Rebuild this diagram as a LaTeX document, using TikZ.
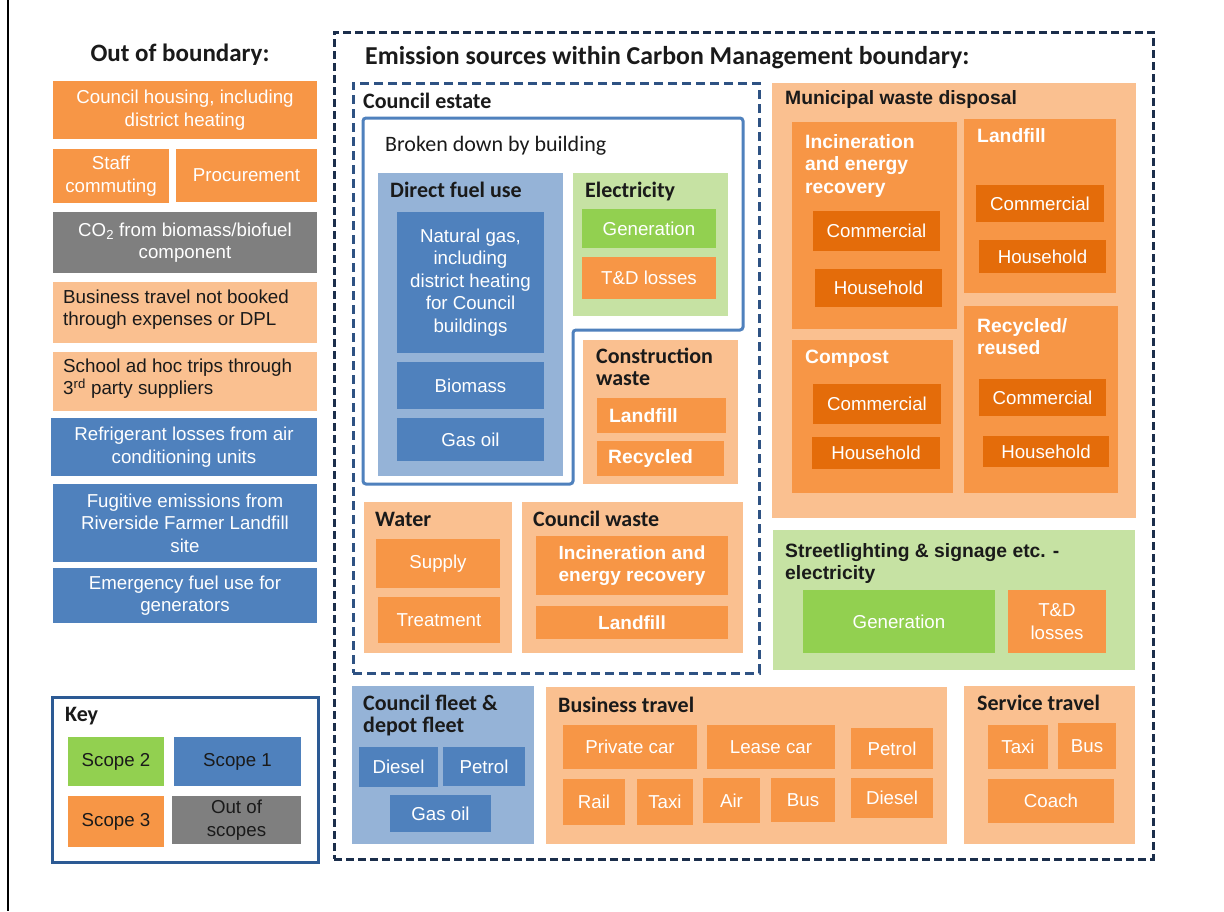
\documentclass[tikz,border=0pt]{standalone}
\usepackage{fontspec}
\setmainfont{Liberation Sans}
\newfontfamily\calfont{Carlito}
\definecolor{sorange}{HTML}{F79646}
\definecolor{lorange}{HTML}{FAC090}
\definecolor{dorange}{HTML}{E46C0A}
\definecolor{sblue}{HTML}{4F81BD}
\definecolor{lblue}{HTML}{95B3D7}
\definecolor{sgreen}{HTML}{92D050}
\definecolor{lgreen}{HTML}{C6E2A3}
\definecolor{sgrey}{HTML}{7F7F7F}
\definecolor{navy}{HTML}{1B2E4B}
\definecolor{cenavy}{HTML}{2E5283}
\definecolor{keyblue}{HTML}{2C5A94}
\definecolor{tdark}{HTML}{1A1A1A}
\newcommand{\bx}[7]{\node[box,#6,minimum width={(#4-#2)*1pt},minimum height={(#5-#3)*1pt}] (#1) at ({(#2+#4)/2},{(#3+#5)/2}) {#7};}
\begin{document}
\begin{tikzpicture}[x=1pt,y=-1pt,
  box/.style={inner sep=0pt, outer sep=0pt, align=center, font=\fontsize{18.7}{22.5}\selectfont},
  so/.style={fill=sorange, text=white},
  lo/.style={fill=lorange},
  do/.style={fill=dorange, text=white},
  sb/.style={fill=sblue, text=white},
  lb/.style={fill=lblue},
  sg/.style={fill=sgreen, text=white},
  lg/.style={fill=lgreen},
  gy/.style={fill=sgrey, text=white},
  bfont/.style={font=\fontsize{19}{22}\selectfont\bfseries},
  hdc/.style={inner sep=0pt, anchor=west, text=tdark, font=\calfont\fontsize{22}{22}\selectfont\bfseries},
  hdcm/.style={inner sep=0pt, anchor=north west, align=left, text=tdark, font=\calfont\fontsize{22}{22}\selectfont\bfseries},
  hda/.style={inner sep=0pt, anchor=west, text=tdark, font=\fontsize{19.3}{22}\selectfont\bfseries},
  hdam/.style={inner sep=0pt, anchor=north west, align=left, text=tdark, font=\fontsize{19.3}{22.5}\selectfont\bfseries},
  wl/.style={text=white},
  ltxt/.style={inner sep=0pt, anchor=north west, align=left, text=tdark, font=\fontsize{18.8}{22}\selectfont},
  mainttl/.style={inner sep=0pt, text=tdark, font=\calfont\fontsize{25}{25}\selectfont\bfseries},
  dashbox/.style={draw=navy, line width=3pt, dash pattern=on 8pt off 4pt},
  cebox/.style={draw=cenavy, line width=3pt, dash pattern=on 9pt off 5pt},
  keybox/.style={draw=keyblue, line width=3pt, fill=white},
  bdb/.style={draw=sblue, line width=3pt, rounded corners=3pt}
]
\useasboundingbox (0,0) rectangle (1224,911);
\fill[white] (0,0) rectangle (1224,911);
\draw[line width=2.5pt] (8,0) -- (8,911);

% ---------- Out of boundary ----------
\node[mainttl] (oobT) at (180,55) {Out of boundary:};
\bx{ch}{53}{81}{317}{139}{so}{Council housing, including\\district heating}
\bx{sc}{53}{149}{169}{203}{so}{Staff\\commuting}
\bx{pr}{176}{149}{317}{202}{so}{Procurement}
\bx{co}{53}{212}{317}{273}{gy}{CO\textsubscript{2} from biomass/biofuel\\component}
\bx{bn}{53}{282}{317}{343}{lo}{}
\node[ltxt] (bnT) at (63,290) {Business travel not booked\\through expenses or DPL};
\bx{sa}{53}{352}{317}{411}{lo}{}
\node[ltxt] (saT) at (63,359) {School ad hoc trips through\\3\textsuperscript{rd} party suppliers};
\bx{rl}{51}{418}{317}{476}{sb}{Refrigerant losses from air\\conditioning units}
\bx{fe}{53}{484}{317}{562}{sb}{Fugitive emissions from\\Riverside Farmer Landfill\\site}
\bx{ef}{53}{568}{317}{623}{sb}{Emergency fuel use for\\generators}

% ---------- Key ----------
\bx{key}{52}{697}{318}{862}{keybox}{}
\node[hdc] (keyT) at (65,716) {Key};
\bx{k2}{68}{737}{164}{786}{sg,text=tdark}{Scope 2}
\bx{k1}{174}{737}{301}{786}{sb,text=tdark}{Scope 1}
\bx{k3}{68}{796}{164}{847}{so,text=tdark}{Scope 3}
\bx{ko}{172}{796}{301}{844}{gy,text=tdark}{Out of\\scopes}

% ---------- Carbon management boundary ----------
\bx{cmb}{334}{32}{1153}{859}{dashbox}{}
\node[mainttl, anchor=west, font=\calfont\fontsize{25.8}{25.8}\selectfont\bfseries] (cmbT) at (365,58) {Emission sources within Carbon Management boundary:};

% Council estate
\bx{ce}{353}{83}{759}{673}{cebox}{}
\node[hdc] (ceT) at (363,101) {Council estate};
\draw[bdb] (363,118) -- (743,118) -- (743,330) -- (573,330) -- (573,484) -- (363,484) -- cycle;
\node[hdc, font=\calfont\fontsize{22}{22}\selectfont] (bdT) at (385,146) {Broken down by building};

\bx{df}{378}{173}{563}{476}{lb}{}
\node[hdc] (dfT) at (390,190) {Direct fuel use};
\bx{ng}{397}{212}{544}{353}{sb}{Natural gas,\\including\\district heating\\for Council\\buildings}
\bx{bm}{397}{362}{544}{409}{sb}{Biomass}
\bx{go}{397}{418}{544}{461}{sb}{Gas oil}

\bx{el}{573}{173}{728}{316}{lg}{}
\node[hdc] (elT) at (585,192) {Electricity};
\bx{elg}{582}{209}{716}{248}{sg}{Generation}
\bx{eltd}{582}{257}{716}{299}{so}{T\&D losses}

\bx{cw}{583}{340}{738}{484}{lo}{}
\node[hdcm] (cwT) at (596,348) {Construction\\waste};
\bx{cwl}{597}{398}{726}{433}{so}{}
\node[hda, wl] (cwlT) at (609,415.5) {Landfill};
\bx{cwr}{597}{441}{724}{476}{so}{}
\node[hda, wl] (cwrT) at (608,458.5) {Recycled};

\bx{wa}{364}{502}{512}{653}{lo}{}
\node[hdc] (waT) at (375,519) {Water};
\bx{wsu}{376}{539}{500}{588}{so}{Supply}
\bx{wtr}{378}{597}{500}{643}{so}{Treatment}

\bx{cwa}{522}{502}{743}{653}{lo}{}
\node[hdc] (cwaT) at (533,519) {Council waste};
\bx{cwi}{536}{536}{728}{595}{so,bfont}{Incineration and\\energy recovery}
\bx{cwlf}{536}{606}{728}{639}{so,bfont}{Landfill}

% Municipal waste disposal
\bx{mw}{772}{83}{1136}{518}{lo}{}
\node[hda] (mwT) at (785,100) {Municipal waste disposal};
\bx{mi}{792}{122}{957}{329}{so}{}
\node[hdam, wl] (miT) at (805,134) {Incineration\\and energy\\recovery};
\bx{mic}{813}{211}{940}{251}{do}{Commercial}
\bx{mih}{815}{269}{942}{307}{do}{Household}
\bx{ml}{964}{119}{1116}{293}{so}{}
\node[hda, wl] (mlT) at (977,136) {Landfill};
\bx{mlc}{976}{185}{1104}{222}{do}{Commercial}
\bx{mlh}{979}{240}{1106}{273}{do}{Household}
\bx{mc}{792}{340}{953}{493}{so}{}
\node[hda, wl] (mcT) at (805,359) {Compost};
\bx{mcc}{813}{384}{941}{424}{do}{Commercial}
\bx{mch}{812}{437}{940}{469}{do}{Household}
\bx{mr}{964}{306}{1118}{493}{so}{}
\node[hdam, wl] (mrT) at (977,318) {Recycled/\\reused};
\bx{mrc}{979}{379}{1106}{416}{do}{Commercial}
\bx{mrh}{983}{436}{1109}{467}{do}{Household}

% Streetlighting
\bx{sl}{773}{530}{1135}{670}{lg}{}
\node[hdam] (slT) at (785,543) {Streetlighting \& signage etc. -\\electricity};
\bx{slg}{803}{590}{995}{653}{sg}{Generation}
\bx{sltd}{1008}{590}{1106}{653}{so}{T\&D\\losses}

% Council fleet
\bx{cf}{352}{686}{534}{844}{lb}{}
\node[hdcm] (cfT) at (363,695) {Council fleet \&\\depot fleet};
\bx{cfd}{359}{747}{438}{787}{sb}{Diesel}
\bx{cfp}{443}{747}{525}{786}{sb}{Petrol}
\bx{cfg}{390}{795}{491}{832}{sb}{Gas oil}

% Business travel
\bx{bt}{546}{687}{947}{844}{lo}{}
\node[hdc] (btT) at (558,705) {Business travel};
\bx{bpc}{563}{725}{697}{769}{so}{Private car}
\bx{blc}{707}{725}{835}{769}{so}{Lease car}
\bx{bpe}{851}{728}{933}{769}{so}{Petrol}
\bx{bra}{563}{779}{625}{825}{so}{Rail}
\bx{bta}{637}{779}{693}{825}{so}{Taxi}
\bx{bai}{703}{778}{760}{823}{so}{Air}
\bx{bbu}{771}{778}{835}{822}{so}{Bus}
\bx{bdi}{851}{778}{933}{818}{so}{Diesel}

% Service travel
\bx{st}{964}{686}{1135}{844}{lo}{}
\node[hdc] (stT) at (977,703) {Service travel};
\bx{sta}{988}{725}{1048}{769}{so}{Taxi}
\bx{sbu}{1058}{723}{1116}{769}{so}{Bus}
\bx{sco}{988}{779}{1114}{823}{so}{Coach}
\end{tikzpicture}
\end{document}
